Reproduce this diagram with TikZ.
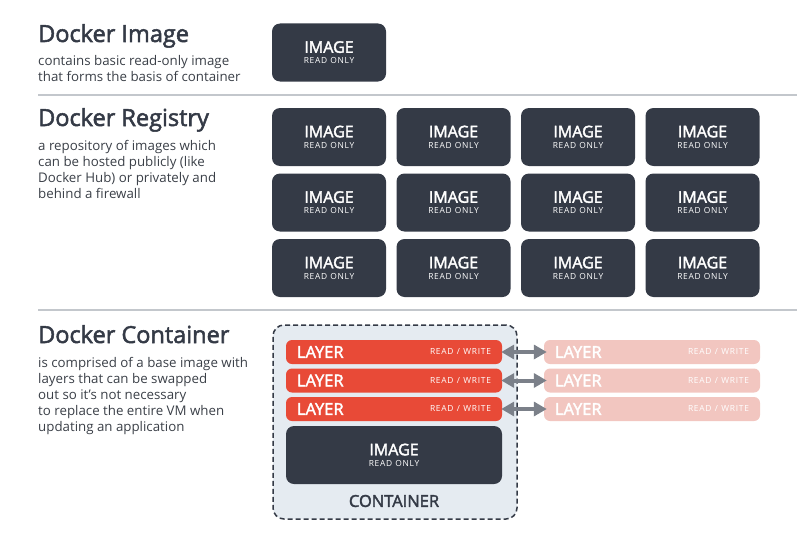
\documentclass[tikz,border=0pt]{standalone}
\usepackage{fontspec}
\setmainfont{Open Sans}
\newfontfamily\semib{Open Sans}[FakeBold=2.2]
\newfontfamily\spaced{Open Sans}[LetterSpace=9]
\usepackage{tikz}
\usetikzlibrary{arrows.meta}
\definecolor{slate}{HTML}{343A46}
\definecolor{redlayer}{HTML}{E84A37}
\definecolor{ghostlayer}{HTML}{F2C6C0}
\definecolor{boxbg}{HTML}{E5EBF1}
\definecolor{rulegray}{HTML}{C3C7CC}
\definecolor{arrowgray}{HTML}{7B8089}
\definecolor{txt}{HTML}{3A3F47}
\newcommand{\imgtext}{{\semib\fontsize{16}{16}\selectfont IMAGE}\\[-1pt]{\spaced\fontsize{8.4}{8}\selectfont READ ONLY}}
\newcommand{\laytext}{{\semib\fontsize{16.5}{15}\selectfont LAYER}\hfill\raisebox{3pt}{\spaced\fontsize{8.4}{7}\selectfont READ / WRITE}}
\tikzset{
  imgbox/.style={fill=slate, text=white, rounded corners=8pt, minimum width=114pt, minimum height=58pt, align=center, inner sep=0pt},
  laybox/.style={fill=redlayer, text=white, rounded corners=6pt, minimum width=216pt, minimum height=24pt, text width=194pt, inner sep=0pt},
  ghostbox/.style={laybox, fill=ghostlayer},
  heading/.style={anchor=base west, inner sep=0pt, text=slate, font=\semib\fontsize{23.5}{26}\selectfont},
  desc/.style={anchor=north west, inner sep=0pt, text=txt, align=left, font=\fontsize{13.3}{16}\selectfont},
  swap/.style={{Triangle[length=13pt,width=14pt]}-{Triangle[length=13pt,width=14pt]}, draw=arrowgray, line width=4pt, shorten <=-1pt, shorten >=-3pt}
}

\begin{document}
\begin{tikzpicture}[x=1pt, y=-1pt]
  \useasboundingbox (0,0) rectangle (800,543);

  % docker image
  \node[heading] (hImg) at (38,42) {Docker Image};
  \node[desc] (dImg) at (38,55) {contains basic read-only image\\that forms the basis of container};
  \node[imgbox] (img) at (329,52.5) {\imgtext};
  \draw[rulegray, line width=1.3pt] (38,95) -- (797,95);

  % docker registry
  \node[heading] (hReg) at (38,126) {Docker Registry};
  \node[desc] (dReg) at (38,140) {a repository of images which\\can be hosted publicly (like\\Docker Hub) or privately and\\behind a firewall};
  \foreach \r in {0,1,2}
    \foreach \c in {0,1,2,3}
      \node[imgbox] (reg-\r-\c) at (329+124.5*\c, 137+65.5*\r) {\imgtext};
  \draw[rulegray, line width=1.3pt] (38,310) -- (797,310);

  % docker container
  \node[heading] (hCon) at (38,343) {Docker Container};
  \node[desc] (dCon) at (38,357) {is comprised of a base image with\\layers that can be swapped\\out so it's not necessary\\to replace the entire VM when\\updating an application};
  \node[draw=slate, fill=boxbg, dashed, dash pattern=on 5pt off 3pt, line width=1.5pt, rounded corners=11pt,
        minimum width=244pt, minimum height=194pt] (con) at (395,422) {};
  \node[imgbox, minimum width=216pt] (base) at (394,455) {\imgtext};
  \node[text=slate, font=\semib\fontsize{16.5}{16}\selectfont] (conLabel) at (394,501) {CONTAINER};
  \foreach \i/\y in {1/352, 2/380.5, 3/409} {
    \node[laybox] (lay\i) at (394,\y) {\laytext};
    \node[ghostbox] (ghost\i) at (652,\y) {\laytext};
    \draw[swap] (lay\i.east) -- (ghost\i.west);
  }
\end{tikzpicture}
\end{document}
